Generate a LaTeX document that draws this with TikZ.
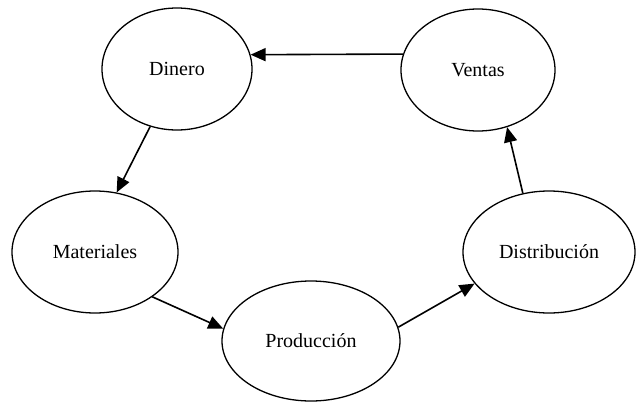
\documentclass[tikz,border=0pt]{standalone}
\usepackage{fontspec}
\setmainfont{Liberation Serif}
\usetikzlibrary{shapes.geometric,arrows.meta}
\begin{document}
\begin{tikzpicture}[x=1pt,y=-1pt,
  stage/.style={ellipse,draw,line width=1.3pt,inner sep=0pt,font=\fontsize{20}{24}\selectfont},
  flow/.style={line width=1.6pt,-{Triangle[length=15pt,width=13pt]}}]
\path[use as bounding box] (0,0) rectangle (638,402);
\node[stage,minimum width=150pt,minimum height=122pt] (din) at (177,69) {Dinero};
\node[stage,minimum width=154pt,minimum height=122pt] (ven) at (478,70) {Ventas};
\node[stage,minimum width=166pt,minimum height=122pt] (mat) at (95,252) {Materiales};
\node[stage,minimum width=178pt,minimum height=120pt] (pro) at (311,341) {Producción};
\node[stage,minimum width=172pt,minimum height=122pt] (dis) at (549,252) {Distribución};
\draw[flow] (ven.168) -- (din.11);
\draw[flow] (din.245) -- (mat.70);
\draw[flow] (mat.-38) -- (pro.172);
\draw[flow] (pro.9) -- (dis.203);
\draw[flow] (dis.114) -- (ven.-63);
\end{tikzpicture}
\end{document}
